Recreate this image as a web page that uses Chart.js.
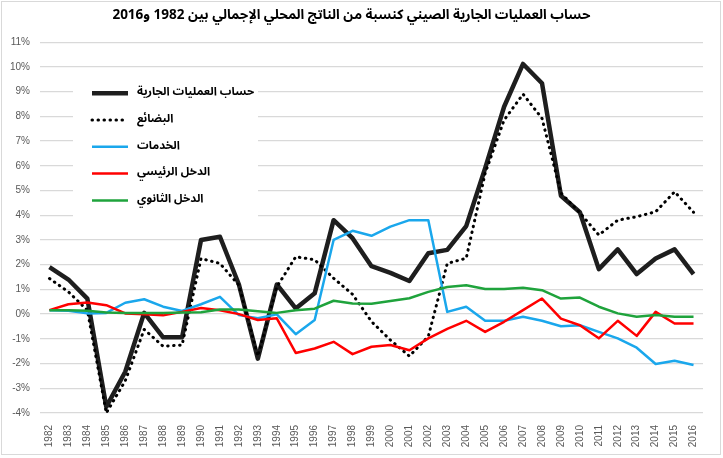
<!DOCTYPE html>
<html lang="ar">
<head>
<meta charset="utf-8">
<title>China current account</title>
<script src="https://cdn.jsdelivr.net/npm/chart.js@4"></script>
<style>
  html, body { margin: 0; padding: 0; background: #fff; }
  #wrap { width: 723px; height: 458px; position: relative; }
</style>
</head>
<body>
<div id="wrap"><canvas id="myChart"></canvas></div>
<script>
const years = ['1982', '1983', '1984', '1985', '1986', '1987', '1988', '1989', '1990', '1991',
  '1992', '1993', '1994', '1995', '1996', '1997', '1998', '1999', '2000', '2001',
  '2002', '2003', '2004', '2005', '2006', '2007', '2008', '2009', '2010', '2011',
  '2012', '2013', '2014', '2015', '2016'];

const seriesNames = ['حساب العمليات الجارية', 'البضائع', 'الخدمات', 'الدخل الرئيسي', 'الدخل الثانوي'];

const currentAccount = [1.9, 1.4, 0.63, -3.75, -2.33, 0.05, -0.94, -0.94, 3.0, 3.13,
  1.2, -1.8, 1.2, 0.23, 0.84, 3.8, 3.07, 1.94, 1.67, 1.34,
  2.46, 2.6, 3.56, 5.9, 8.39, 10.12, 9.34, 4.79, 4.12, 1.82,
  2.62, 1.62, 2.25, 2.62, 1.62];

const goods = [1.44, 0.9, 0.16, -4.0, -2.7, -0.62, -1.3, -1.25, 2.25, 2.05,
  1.17, -1.7, 1.1, 2.32, 2.2, 1.45, 0.8, -0.3, -1.05, -1.7,
  -0.9, 2.05, 2.26, 5.7, 7.85, 8.9, 7.92, 4.9, 4.1, 3.2,
  3.8, 3.94, 4.14, 4.95, 4.12];

const services = [0.16, 0.14, 0.03, 0.05, 0.46, 0.6, 0.3, 0.13, 0.4, 0.7,
  -0.04, -0.17, -0.01, -0.81, -0.24, 3.0, 3.37, 3.17, 3.54, 3.8,
  3.8, 0.09, 0.3, -0.27, -0.27, -0.11, -0.27, -0.49, -0.45, -0.72,
  -0.98, -1.36, -2.02, -1.89, -2.06];

const primaryIncome = [0.16, 0.4, 0.47, 0.36, 0.03, -0.01, -0.05, 0.09, 0.25, 0.16,
  0.0, -0.24, -0.17, -1.57, -1.39, -1.12, -1.62, -1.32, -1.25, -1.46,
  -0.98, -0.6, -0.27, -0.72, -0.31, 0.16, 0.63, -0.18, -0.45, -0.98,
  -0.27, -0.88, 0.09, -0.38, -0.38];

const secondaryIncome = [0.16, 0.16, 0.14, 0.07, 0.05, 0.05, 0.05, 0.07, 0.08, 0.19,
  0.19, 0.12, 0.05, 0.16, 0.22, 0.54, 0.43, 0.42, 0.53, 0.64,
  0.9, 1.1, 1.17, 1.02, 1.02, 1.07, 0.97, 0.63, 0.67, 0.3,
  0.03, -0.11, -0.04, -0.11, -0.11];

const yMin = -4;
const yMax = 11;

const arabicFont = "'Noto Sans Arabic', 'DejaVu Sans', sans-serif";

function lineSet(label, data, color, width, order, dash) {
  return {
    label: label,
    data: data,
    borderColor: color,
    backgroundColor: color,
    borderWidth: width,
    borderDash: dash || [],
    borderCapStyle: dash ? 'round' : 'butt',
    borderJoinStyle: 'round',
    pointRadius: 0,
    tension: 0,
    fill: false,
    order: order
  };
}

// legend drawn inside the plot, like the original
const insideLegend = {
  id: 'insideLegend',
  afterDatasetsDraw(chart) {
    const ctx = chart.ctx;
    const area = chart.chartArea;
    const left = area.left + 33;
    const top = area.top + 31;
    ctx.save();
    ctx.fillStyle = '#fff';
    ctx.fillRect(left, top, 185, 152);
    chart.data.datasets.forEach((ds, i) => {
      const y = top + 20 + i * 26.8;
      ctx.beginPath();
      ctx.strokeStyle = ds.borderColor;
      ctx.lineWidth = ds.borderWidth;
      ctx.lineCap = ds.borderCapStyle;
      ctx.setLineDash(ds.borderDash);
      ctx.moveTo(left + 19, y);
      ctx.lineTo(left + 55, y);
      ctx.stroke();
      ctx.setLineDash([]);
      ctx.fillStyle = '#000';
      ctx.font = "bold 11.5px " + arabicFont;
      ctx.direction = 'rtl';
      ctx.textAlign = 'left';
      ctx.textBaseline = 'middle';
      ctx.fillText(ds.label, left + 64, y);
    });
    ctx.restore();
  }
};

const frame = {
  id: 'frame',
  afterDraw(chart) {
    const ctx = chart.ctx;
    ctx.save();
    ctx.strokeStyle = '#d9d9d9';
    ctx.lineWidth = 1;
    ctx.strokeRect(1.5, 1.5, chart.width - 4, chart.height - 5);
    ctx.restore();
  }
};

const ctx = document.getElementById('myChart');

const chart = new Chart(ctx, {
  type: 'line',
  data: {
    labels: years,
    datasets: [
      lineSet(seriesNames[0], currentAccount, '#1e1e1e', 4.5, 5),
      lineSet(seriesNames[1], goods, '#000000', 3, 4, [0.5, 5.5]),
      lineSet(seriesNames[2], services, '#1aa7ec', 2.5, 3),
      lineSet(seriesNames[3], primaryIncome, '#ff0000', 2.5, 2),
      lineSet(seriesNames[4], secondaryIncome, '#1fa33c', 2.5, 1)
    ]
  },
  plugins: [insideLegend, frame],
  options: {
    responsive: true,
    maintainAspectRatio: false,
    animation: false,
    layout: { padding: { left: 0, right: 20, top: 0, bottom: 0 } },
    plugins: {
      legend: { display: false },
      tooltip: { enabled: false },
      title: {
        display: true,
        text: 'حساب العمليات الجارية الصيني كنسبة من الناتج المحلي الإجمالي بين 1982 و2016',
        color: '#000',
        font: { family: arabicFont, size: 13.5, weight: 'bold', lineHeight: 1.2 },
        padding: { top: 9, bottom: 17 }
      }
    },
    scales: {
      x: {
        type: 'category',
        offset: true,
        grid: { display: false, drawTicks: false },
        border: { display: false },
        ticks: {
          color: '#595959',
          font: { family: "'Liberation Sans', Arial, sans-serif", size: 10 },
          minRotation: 90,
          maxRotation: 90,
          autoSkip: false,
          padding: 12
        },
        afterFit(scale) { scale.height = 45; }
      },
      y: {
        min: yMin,
        max: yMax,
        grid: { color: '#d9d9d9', lineWidth: 1.3, drawTicks: false },
        border: { display: false },
        ticks: {
          stepSize: 1,
          color: '#595959',
          font: { family: "'Liberation Sans', Arial, sans-serif", size: 10 },
          padding: 10,
          callback: (v) => v + '%'
        },
        afterFit(scale) { scale.width = 40; }
      }
    }
  }
});
</script>
</body>
</html>
